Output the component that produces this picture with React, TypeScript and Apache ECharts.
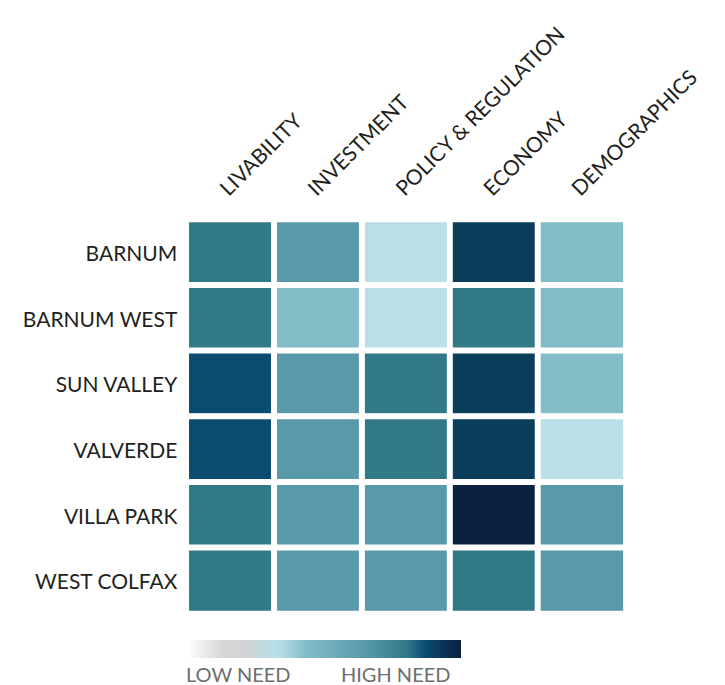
import React, { useEffect, useRef } from "react";
import * as echarts from "echarts";

const categories = ["LIVABILITY", "INVESTMENT", "POLICY & REGULATION", "ECONOMY", "DEMOGRAPHICS"];
const neighborhoods = ["BARNUM", "BARNUM WEST", "SUN VALLEY", "VALVERDE", "VILLA PARK", "WEST COLFAX"];

// need level per neighborhood (1 = low need ... 7 = highest need), columns follow `categories`
const barnum = [4, 3, 1, 6, 2];
const barnumWest = [4, 2, 1, 4, 2];
const sunValley = [5, 3, 4, 6, 2];
const valverde = [5, 3, 4, 6, 1];
const villaPark = [4, 3, 3, 7, 3];
const westColfax = [4, 3, 3, 4, 3];
const rows = [barnum, barnumWest, sunValley, valverde, villaPark, westColfax];

const levelColors = ["#b9dfe7", "#82bcc7", "#5899aa", "#317889", "#0b4b70", "#0a3d5a", "#0a2142"];
const legendLabels = ["LOW NEED", "HIGH NEED"];

export default function App() {
  const ref = useRef<HTMLDivElement>(null);
  useEffect(() => {
    if (!ref.current) return;
    const chart = echarts.init(ref.current, undefined, { renderer: "svg" });
    const data: number[][] = [];
    rows.forEach((r, yi) => r.forEach((v, xi) => data.push([xi, yi, v])));
    const font = "Lato, 'Open Sans', sans-serif";
    chart.setOption({
      animation: false,
      backgroundColor: "#ffffff",
      grid: { left: 186.3, top: 219.5, width: 439.6, height: 394 },
      xAxis: {
        type: "category",
        data: categories,
        position: "top",
        axisLine: { show: false },
        axisTick: { show: false },
        splitLine: { show: false },
        axisLabel: {
          rotate: -45,
          margin: 21,
          align: "left",
          verticalAlign: "bottom",
          fontFamily: font,
          fontSize: 21,
          color: "#231f20",
          interval: 0,
          hideOverlap: false,
        },
      },
      yAxis: {
        type: "category",
        data: neighborhoods,
        inverse: true,
        axisLine: { show: false },
        axisTick: { show: false },
        splitLine: { show: false },
        axisLabel: {
          margin: 9,
          fontFamily: font,
          fontSize: 21,
          color: "#231f20",
          interval: 0,
        },
      },
      visualMap: {
        show: false,
        type: "continuous",
        min: 1,
        max: 7,
        dimension: 2,
        inRange: { color: levelColors },
      },
      series: [
        {
          type: "heatmap",
          data,
          itemStyle: { borderColor: "#ffffff", borderWidth: 6 },
          emphasis: { disabled: true },
        },
      ],
      graphic: [
        {
          type: "rect",
          left: 190,
          top: 640,
          shape: { width: 271, height: 18 },
          style: {
            fill: new echarts.graphic.LinearGradient(0, 0, 1, 0, [
              { offset: 0, color: "#fbfbfb" },
              { offset: 0.12, color: "#d7d7d9" },
              { offset: 0.21, color: "#d0d2d4" },
              { offset: 0.3, color: "#b9dfe7" },
              { offset: 0.33, color: "#b5dde6" },
              { offset: 0.43, color: "#82bcc7" },
              { offset: 0.65, color: "#5899aa" },
              { offset: 0.8, color: "#317889" },
              { offset: 0.87, color: "#0b4b70" },
              { offset: 1, color: "#0a1f40" },
            ]),
          },
        },
        {
          type: "text",
          left: 186,
          top: 664,
          style: { text: legendLabels[0], fontFamily: font, fontSize: 20, lineHeight: 20, fill: "#6d6e70" },
        },
        {
          type: "text",
          left: 341,
          top: 664,
          style: { text: legendLabels[1], fontFamily: font, fontSize: 20, lineHeight: 20, fill: "#6d6e70" },
        },
      ],
    });
    return () => chart.dispose();
  }, []);
  return (
    <div
      ref={ref}
      style={{ position: "absolute", left: 0, top: 0, width: 725, height: 685 }}
    />
  );
}
